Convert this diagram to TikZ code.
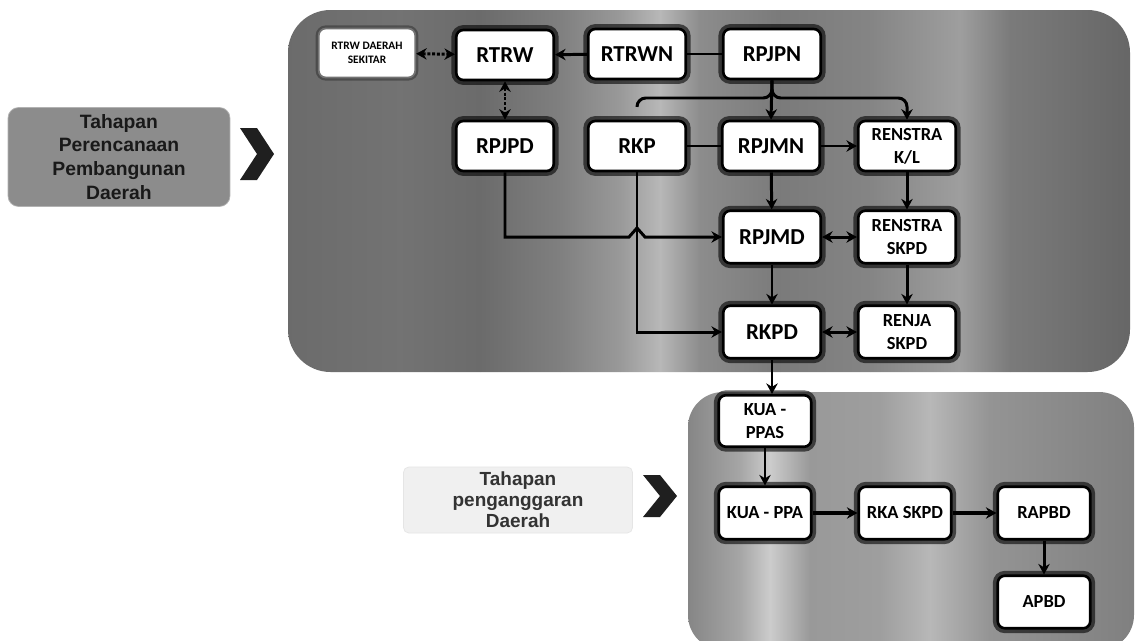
\documentclass[tikz,border=0pt]{standalone}
\usepackage{fontspec}
\setmainfont{Carlito}
\newfontfamily\labfont{Liberation Sans}
\usetikzlibrary{arrows.meta,calc}
\begin{document}
\begin{tikzpicture}[x=0.02cm,y=-0.02cm,
  box/.style={draw=black, line width=1.5pt, fill=white, rounded corners=4pt,
    font=\bfseries\fontsize{13}{14}\selectfont, align=center,
    minimum width=1.95cm, minimum height=1.0cm, inner sep=1pt,
    preaction={draw=black, line width=5.5pt, opacity=0.6}},
  sbox/.style={box, font=\bfseries\fontsize{10.5}{13}\selectfont},
  bbox/.style={box, minimum width=1.85cm, font=\bfseries\fontsize{10.5}{13}\selectfont},
  tbox/.style={draw=black!55, line width=1pt, fill=white, rounded corners=4pt,
    font=\bfseries\fontsize{6.5}{8}\selectfont, align=center,
    minimum width=1.93cm, minimum height=0.98cm, inner sep=1pt,
    preaction={draw=black, line width=3.5pt, opacity=0.3}},
  con/.style={draw=black, line width=1.7pt, arrows={-}},
  tip/.style={-{Stealth[length=6pt,width=6.5pt]}},
  tips/.style={{Stealth[length=6pt,width=6.5pt]}-{Stealth[length=6pt,width=6.5pt]}},
  lab1/.style={fill=black!45, draw=black!30, rounded corners=6pt, align=center,
    text=black!90, font=\labfont\bfseries\fontsize{11}{13.6}\selectfont,
    minimum width=4.44cm, minimum height=1.98cm, inner sep=0pt},
  lab2/.style={fill=black!6, draw=black!10, rounded corners=3pt, align=center,
    text=black!80, font=\labfont\bfseries\fontsize{10.8}{12}\selectfont,
    minimum width=4.58cm, minimum height=1.32cm, inner sep=0pt},
  chev/.style={fill=black!88}
]
\useasboundingbox (0,0) rectangle (1137,640);
\fill[white] (0,0) rectangle (1137,640);

% top panel
\begin{scope}
\clip[rounded corners=0.85cm] (288,10) rectangle (1130,372);
\shade[left color=black!58, right color=black!55] (286,0) rectangle (400,380);
\shade[left color=black!55, right color=black!58] (400,0) rectangle (480,380);
\shade[left color=black!58, right color=black!50] (480,0) rectangle (560,380);
\shade[left color=black!50, right color=black!40] (560,0) rectangle (620,380);
\shade[left color=black!40, right color=black!28] (620,0) rectangle (660,380);
\shade[left color=black!28, right color=black!45] (660,0) rectangle (700,380);
\shade[left color=black!45, right color=black!52] (700,0) rectangle (780,380);
\shade[left color=black!52, right color=black!48] (780,0) rectangle (870,380);
\shade[left color=black!48, right color=black!38] (870,0) rectangle (960,380);
\shade[left color=black!38, right color=black!52] (960,0) rectangle (1010,380);
\shade[left color=black!52, right color=black!60] (1010,0) rectangle (1132,380);
\end{scope}

% bottom panel
\begin{scope}
\clip[rounded corners=0.7cm] (688,392) rectangle (1134,650);
\shade[left color=black!48, right color=black!35] (686,380) rectangle (740,660);
\shade[left color=black!35, right color=black!20] (740,380) rectangle (770,660);
\shade[left color=black!20, right color=black!40] (770,380) rectangle (810,660);
\shade[left color=black!40, right color=black!38] (810,380) rectangle (880,660);
\shade[left color=black!38, right color=black!28] (880,380) rectangle (930,660);
\shade[left color=black!28, right color=black!42] (930,380) rectangle (990,660);
\shade[left color=black!42, right color=black!50] (990,380) rectangle (1136,660);
\end{scope}

% left labels and chevrons
\node[lab1] (perenc) at (119,157) {Tahapan\\Perencanaan\\Pembangunan\\Daerah};
\node[lab2] (pengang) at (518,500) {Tahapan\\penganggaran\\Daerah};
\fill[chev] (240,128) -- (257,128) -- (274,154) -- (257,180) -- (240,180) -- (257,154) -- cycle;
\fill[chev] (643,475) -- (660,475) -- (677,496) -- (660,517) -- (643,517) -- (660,496) -- cycle;

% nodes
\node[tbox] (sekitar) at (367,53) {RTRW DAERAH\\SEKITAR};
\node[box] (rtrw) at (505,55) {RTRW};
\node[box] (rtrwn) at (637,54) {RTRWN};
\node[box] (rpjpn) at (772,54) {RPJPN};
\node[box] (rpjpd) at (505,146) {RPJPD};
\node[box] (rkp) at (637,146) {RKP};
\node[box] (rpjmn) at (771,146) {RPJMN};
\node[sbox] (renkl) at (907,146) {RENSTRA\\K/L};
\node[box, minimum height=1.05cm] (rpjmd) at (772,237) {RPJMD};
\node[sbox, minimum height=1.05cm] (renskpd) at (907,237) {RENSTRA\\SKPD};
\node[box, minimum height=1.05cm] (rkpd) at (772,332) {RKPD};
\node[sbox, minimum height=1.05cm] (renja) at (907,332) {RENJA\\SKPD};
\node[bbox, minimum height=1.03cm] (kuappas) at (765,421) {KUA -\\PPAS};
\node[bbox, minimum height=1.05cm] (kuappa) at (765,513) {KUA - PPA};
\node[bbox, minimum height=1.05cm] (rka) at (905,513) {RKA SKPD};
\node[bbox, minimum height=1.05cm] (rapbd) at (1044,513) {RAPBD};
\node[bbox, minimum height=1.05cm] (apbd) at (1044,602) {APBD};

\coordinate (bus) at (772,98);
\coordinate (rkpstub) at (637,106);

% connectors
\draw[con,tips,densely dotted] (sekitar) -- (rtrw);
\draw[con,tip] (rtrwn) -- (rtrw);
\draw[con] (rtrwn) -- (rpjpn);
\draw[con,tips,densely dotted] (rtrw) -- (rpjpd);
\draw[con,tip] (rpjpn.south) -- (rpjmn.north);
\draw[con,tip,rounded corners=5pt] (rpjpn.south) |- (renkl.north |- bus) -- (renkl.north);
\draw[con,rounded corners=5pt] (rpjpn.south) |- (rkpstub |- bus) -- (rkpstub);
\draw[con] (rkp) -- (rpjmn);
\draw[con,tip] (rpjmn) -- (renkl);
\draw[con,tip] (rpjmn) -- (rpjmd);
\draw[con,tip] (renkl) -- (renskpd);
\draw[con,tip] (rpjpd.south) |- ($(rkp.south |- rpjmd.west)+(-8,0)$) -- ++(8,-9) -- ++(8,9) -- (rpjmd.west);
\draw[con,tip] (rkp.south) |- (rkpd.west);
\draw[con,tips] (rpjmd) -- (renskpd);
\draw[con,tip] (rpjmd) -- (rkpd);
\draw[con,tip] (renskpd) -- (renja);
\draw[con,tips] (rkpd) -- (renja);
\draw[con,tip] (rkpd.south) -- (rkpd.south |- kuappas.north);
\draw[con,tip] (kuappas) -- (kuappa);
\draw[con,tip,line width=2.2pt] (kuappa) -- (rka);
\draw[con,tip,line width=2.2pt] (rka) -- (rapbd);
\draw[con,tip] (rapbd) -- (apbd);
\end{tikzpicture}
\end{document}
